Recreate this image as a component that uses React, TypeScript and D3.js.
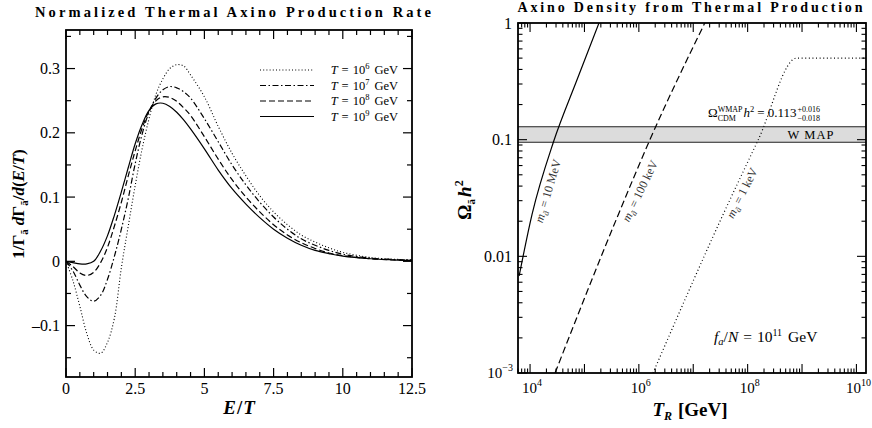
import React, { useEffect, useRef } from 'react';
import * as d3 from 'd3';

const W = 872;
const H = 428;
const FONT = '"Liberation Serif", "DejaVu Serif", serif';

// ---- left panel: normalized production rate vs E/T ----
const eOverT = [0, 0.25, 0.5, 0.75, 1, 1.25, 1.5, 1.75, 2, 2.25, 2.5, 2.75, 3, 3.25, 3.5, 3.75, 4, 4.25, 4.5, 5, 5.5, 6, 6.5, 7, 7.5, 8, 8.5, 9, 9.5, 10, 11, 12, 12.5];
const rateT6 = [0, -0.03, -0.07, -0.112, -0.138, -0.143, -0.126, -0.088, -0.01, 0.055, 0.118, 0.175, 0.222, 0.26, 0.284, 0.3, 0.306, 0.304, 0.29, 0.256, 0.21, 0.168, 0.133, 0.102, 0.077, 0.057, 0.041, 0.03, 0.021, 0.014, 0.006, 0.003, 0.002];
const rateT7 = [0, -0.015, -0.037, -0.055, -0.062, -0.053, -0.028, 0.008, 0.05, 0.098, 0.152, 0.198, 0.232, 0.254, 0.267, 0.272, 0.27, 0.264, 0.254, 0.222, 0.186, 0.15, 0.119, 0.092, 0.069, 0.05, 0.035, 0.025, 0.017, 0.011, 0.005, 0.0025, 0.002];
const rateT8 = [0, -0.008, -0.018, -0.022, -0.017, -0.002, 0.022, 0.055, 0.092, 0.133, 0.172, 0.207, 0.234, 0.25, 0.256, 0.255, 0.249, 0.239, 0.227, 0.194, 0.159, 0.127, 0.1, 0.077, 0.057, 0.041, 0.029, 0.02, 0.013, 0.009, 0.004, 0.002, 0.0015];
const rateT9 = [0, -0.002, -0.004, -0.004, 0, 0.016, 0.04, 0.072, 0.108, 0.146, 0.183, 0.213, 0.235, 0.245, 0.246, 0.241, 0.232, 0.22, 0.206, 0.175, 0.142, 0.113, 0.089, 0.068, 0.05, 0.036, 0.025, 0.017, 0.012, 0.008, 0.004, 0.002, 0.0015];
const tempExponents = ['6', '7', '8', '9'];
const rateSeries = [rateT6, rateT7, rateT8, rateT9];

const leftXTicks = [0, 2.5, 5, 7.5, 10, 12.5];
const leftXLabels = ['0', '2.5', '5', '7.5', '10', '12.5'];
const leftYTicks = [-0.1, 0, 0.1, 0.2, 0.3];
const leftYLabels = ['\u20130.1', '0', '0.1', '0.2', '0.3'];

// ---- right panel: axino relic density vs reheating temperature ----
const reheatMeV10 = [6.3e3, 1.09e4, 2.7e4, 7.3e4, 1.85e5];
const omegaMeV10 = [6.8e-3, 0.023, 0.096, 0.326, 1];
const reheatKeV100 = [2.88e4, 4.24e5, 1.6e6, 1.63e7];
const omegaKeV100 = [1e-3, 0.0231, 0.1, 1];
const reheatKeV1 = [1.82e6, 3.58e7, 1.57e8, 7.93e8, 1.5e10];
const omegaKeV1 = [1e-3, 0.0231, 0.1, 0.5, 0.5];
const massLabels = ['10 MeV', '100 keV', '1 keV'];

const wmapLow = 0.095;
const wmapHigh = 0.129;

const rightXDecades = [4, 5, 6, 7, 8, 9, 10];
const rightXLabelled = [4, 6, 8, 10];
const rightYDecades = [-3, -2, -1, 0];
const rightYLabels = ['10', '0.01', '0.1', '1'];

type Seg = { t?: string; size?: number; it?: boolean; bold?: boolean; dy?: number; gap?: number; stack?: [string, string]; ls?: number };

function rich(parent: any, x: number, y: number, segs: Seg[], base: number, anchor = 'start', rotate = 0, weight = 'normal') {
  const g = parent.append('g').attr('transform', `translate(${x},${y}) rotate(${rotate})`);
  const inner = g.append('g').attr('font-weight', weight);
  let cx = 0;
  segs.forEach(s => {
    if (s.gap) { cx += s.gap; return; }
    if (s.stack) {
      const sz = s.size ?? base * 0.68;
      const a = inner.append('text').attr('x', cx).attr('y', -base * 0.42).attr('font-size', sz).text(s.stack[0]);
      const b = inner.append('text').attr('x', cx).attr('y', base * 0.28).attr('font-size', sz).text(s.stack[1]);
      cx += Math.max(a.node().getComputedTextLength(), b.node().getComputedTextLength());
      return;
    }
    const t = inner.append('text')
      .attr('x', cx)
      .attr('y', s.dy ?? 0)
      .attr('font-size', s.size ?? base)
      .attr('font-style', s.it ? 'italic' : 'normal')
      .attr('letter-spacing', s.ls ?? 0)
      .text(s.t!);
    if (s.bold) t.attr('font-weight', 'bold');
    cx += t.node().getComputedTextLength() + (s.ls ?? 0) * (s.t!.length - 1);
  });
  const shift = anchor === 'end' ? -cx : anchor === 'middle' ? -cx / 2 : 0;
  inner.attr('transform', `translate(${shift},0)`);
  return g;
}

export default function App() {
  const svgRef = useRef<SVGSVGElement>(null);

  useEffect(() => {
    if (!svgRef.current) return;
    const svg = d3.select(svgRef.current);
    svg.selectAll('*').remove();

    // ===== left panel =====
    const L = { x0: 66, x1: 412, y0: 30, y1: 377 };
    const x = d3.scaleLinear().domain([0, 12.5]).range([L.x0, L.x1]);
    const y = d3.scaleLinear().domain([-0.18, 0.36]).range([L.y1, L.y0]);

    const gl = svg.append('g');
    gl.append('clipPath').attr('id', 'clipL').append('rect')
      .attr('x', L.x0).attr('y', L.y0).attr('width', L.x1 - L.x0).attr('height', L.y1 - L.y0);

    const dashes = ['1,2.2', '6,2.5,1.5,2.5', '6,3', null];
    const line = d3.line<number>()
      .x((_, i) => x(eOverT[i]))
      .y(d => y(d))
      .curve(d3.curveCatmullRom.alpha(0.5));

    rateSeries.forEach((vals, i) => {
      const p = gl.append('path')
        .attr('clip-path', 'url(#clipL)')
        .attr('d', line(vals))
        .attr('fill', 'none')
        .attr('stroke', '#000')
        .attr('stroke-width', i === 0 ? 1.1 : 1.2);
      if (dashes[i]) p.attr('stroke-dasharray', dashes[i]);
    });

    // ticks
    const minorX = d3.range(0, 12.51, 0.5);
    minorX.forEach(v => {
      const major = leftXTicks.some(t => Math.abs(t - v) < 1e-6);
      const len = major ? 9 : 5;
      gl.append('line').attr('x1', x(v)).attr('x2', x(v)).attr('y1', L.y1).attr('y2', L.y1 - len).attr('stroke', '#000').attr('stroke-width', 1.2);
      gl.append('line').attr('x1', x(v)).attr('x2', x(v)).attr('y1', L.y0).attr('y2', L.y0 + len).attr('stroke', '#000').attr('stroke-width', 1.2);
    });
    const minorY = d3.range(-0.15, 0.36, 0.05);
    minorY.forEach(v => {
      const major = leftYTicks.some(t => Math.abs(t - v) < 1e-6);
      const len = major ? 9 : 5;
      gl.append('line').attr('x1', L.x0).attr('x2', L.x0 + len).attr('y1', y(v)).attr('y2', y(v)).attr('stroke', '#000').attr('stroke-width', 1.2);
      gl.append('line').attr('x1', L.x1).attr('x2', L.x1 - len).attr('y1', y(v)).attr('y2', y(v)).attr('stroke', '#000').attr('stroke-width', 1.2);
    });
    gl.append('rect').attr('x', L.x0).attr('y', L.y0).attr('width', L.x1 - L.x0).attr('height', L.y1 - L.y0)
      .attr('fill', 'none').attr('stroke', '#000').attr('stroke-width', 1.8);

    leftXTicks.forEach((v, i) => {
      gl.append('text').attr('x', x(v)).attr('y', 394).attr('text-anchor', 'middle').attr('font-size', 16).text(leftXLabels[i]);
    });
    leftYTicks.forEach((v, i) => {
      gl.append('text').attr('x', 60).attr('y', y(v) + 5.5).attr('text-anchor', 'end').attr('font-size', 16).text(leftYLabels[i]);
    });

    // legend
    const legY = [70, 85.5, 101, 116.5];
    tempExponents.forEach((ex, i) => {
      const p = gl.append('line').attr('x1', 260).attr('x2', 314).attr('y1', legY[i]).attr('y2', legY[i])
        .attr('stroke', '#000').attr('stroke-width', i === 0 ? 1.1 : 1.2);
      if (dashes[i]) p.attr('stroke-dasharray', dashes[i]);
      rich(gl, 398, legY[i] + 4, [
        { t: 'T', it: true }, { gap: 4 }, { t: '=' }, { gap: 4 }, { t: '10' }, { t: ex, size: 8.5, dy: -5 }, { gap: 5 }, { t: 'GeV' },
      ], 12.5, 'end');
    });

    // titles and axis labels
    svg.append('text').attr('x', 233).attr('y', 17).attr('text-anchor', 'middle').attr('font-size', 14.5)
      .attr('font-weight', 'bold').attr('textLength', 396).attr('lengthAdjust', 'spacing')
      .text('Normalized Thermal Axino Production Rate');
    rich(svg, 239, 414, [{ t: 'E', it: true }, { gap: 1 }, { t: '/' }, { gap: 1 }, { t: 'T', it: true }], 19, 'middle', 0, 'bold');
    rich(svg, 24, 204, [
      { t: '1/\u0393' }, { t: 'a\u0303', size: 11, dy: 4 }, { gap: 4 }, { t: 'd', it: true }, { t: '\u0393' }, { t: 'a\u0303', size: 11, dy: 4 },
      { t: '/' }, { t: 'd', it: true }, { t: '(' }, { t: 'E', it: true }, { t: '/' }, { t: 'T', it: true }, { t: ')' },
    ], 17, 'middle', -90, 'bold');

    // ===== right panel =====
    const R = { x0: 518, x1: 866, y0: 23, y1: 373 };
    const xr = d3.scaleLog().domain([6e3, 1.5e10]).range([R.x0, R.x1]);
    const yr = d3.scaleLog().domain([1e-3, 1]).range([R.y1, R.y0]);
    const gr = svg.append('g');
    gr.append('clipPath').attr('id', 'clipR').append('rect')
      .attr('x', R.x0).attr('y', R.y0).attr('width', R.x1 - R.x0).attr('height', R.y1 - R.y0);

    // WMAP band
    gr.append('rect').attr('x', R.x0).attr('width', R.x1 - R.x0)
      .attr('y', yr(wmapHigh)).attr('height', yr(wmapLow) - yr(wmapHigh))
      .attr('fill', '#dcdcdc').attr('stroke', 'none');
    [wmapLow, wmapHigh].forEach(v => {
      gr.append('line').attr('x1', R.x0).attr('x2', R.x1).attr('y1', yr(v)).attr('y2', yr(v)).attr('stroke', '#222').attr('stroke-width', 1);
    });

    const rl = d3.line<[number, number]>().x(d => xr(d[0])).y(d => yr(d[1])).curve(d3.curveMonotoneX);
    const curves: [number[], number[], string | null][] = [
      [reheatMeV10, omegaMeV10, null],
      [reheatKeV100, omegaKeV100, '7,3.5'],
      [reheatKeV1, omegaKeV1, '1,2.6'],
    ];
    curves.forEach(([ts, os, dash]) => {
      const p = gr.append('path').attr('clip-path', 'url(#clipR)')
        .attr('d', rl(ts.map((t, i) => [t, os[i]] as [number, number])))
        .attr('fill', 'none').attr('stroke', '#000').attr('stroke-width', 1.2);
      if (dash) p.attr('stroke-dasharray', dash);
    });

    // log ticks
    const xMinor: number[] = [];
    for (let e = 3; e <= 10; e++) for (let m = 1; m <= 9; m++) {
      const v = m * Math.pow(10, e);
      if (v >= 6e3 && v <= 1.5e10) xMinor.push(v);
    }
    xMinor.forEach(v => {
      const major = rightXDecades.some(d => Math.abs(Math.log10(v) - d) < 1e-6);
      const len = major ? 9 : 4.5;
      gr.append('line').attr('x1', xr(v)).attr('x2', xr(v)).attr('y1', R.y1).attr('y2', R.y1 - len).attr('stroke', '#000').attr('stroke-width', 1.1);
      gr.append('line').attr('x1', xr(v)).attr('x2', xr(v)).attr('y1', R.y0).attr('y2', R.y0 + len).attr('stroke', '#000').attr('stroke-width', 1.1);
    });
    const yMinor: number[] = [];
    for (let e = -3; e <= 0; e++) for (let m = 1; m <= 9; m++) {
      const v = m * Math.pow(10, e);
      if (v <= 1.0001) yMinor.push(v);
    }
    yMinor.forEach(v => {
      const major = rightYDecades.some(d => Math.abs(Math.log10(v) - d) < 1e-6);
      const len = major ? 9 : 4.5;
      gr.append('line').attr('x1', R.x0).attr('x2', R.x0 + len).attr('y1', yr(v)).attr('y2', yr(v)).attr('stroke', '#000').attr('stroke-width', 1.1);
      gr.append('line').attr('x1', R.x1).attr('x2', R.x1 - len).attr('y1', yr(v)).attr('y2', yr(v)).attr('stroke', '#000').attr('stroke-width', 1.1);
    });
    gr.append('rect').attr('x', R.x0).attr('y', R.y0).attr('width', R.x1 - R.x0).attr('height', R.y1 - R.y0)
      .attr('fill', 'none').attr('stroke', '#000').attr('stroke-width', 1.8);

    rightXLabelled.forEach(d => {
      rich(gr, xr(Math.pow(10, d)) + 2, 393, [{ t: '10' }, { t: String(d), size: 10, dy: -7 }], 15, 'middle');
    });
    rightYDecades.forEach((d, i) => {
      if (d === -3) {
        rich(gr, 513, yr(Math.pow(10, d)) + 5, [{ t: '10' }, { t: '\u22123', size: 10, dy: -7 }], 15, 'end');
      } else {
        gr.append('text').attr('x', 512).attr('y', yr(Math.pow(10, d)) + 5.5).attr('text-anchor', 'end').attr('font-size', 16).text(rightYLabels[i]);
      }
    });

    // annotations
    rich(gr, 708, 117, [
      { t: '\u03a9' }, { stack: ['WMAP', 'CDM'], size: 8 }, { gap: 1 }, { t: 'h', it: true }, { t: '2', size: 8.5, dy: -5 },
      { gap: 3 }, { t: '=' }, { gap: 3 }, { t: '0.113' }, { gap: 1 }, { stack: ['+0.016', '\u22120.018'], size: 8 },
    ], 13, 'start');
    gr.append('text').attr('x', 811).attr('y', 138.5).attr('text-anchor', 'middle').attr('font-size', 12.5)
      .attr('letter-spacing', 1).text('W MAP');
    rich(gr, 714, 342, [
      { t: 'f', it: true }, { t: 'a', it: true, size: 10.5, dy: 3 }, { t: '/' }, { t: 'N', it: true }, { gap: 5 }, { t: '=' }, { gap: 5 },
      { t: '10' }, { t: '11', size: 10, dy: -6 }, { gap: 6 }, { t: 'GeV' },
    ], 15.5, 'start');

    const labelPos: [number, number, number][] = [[548, 191, -73.5], [640, 191, -64], [742, 193, -63]];
    massLabels.forEach((m, i) => {
      const [lx, ly, rot] = labelPos[i];
      const g = gr.append('g').attr('transform', `translate(${lx},${ly}) rotate(${rot})`);
      rich(g, 0, 4, [
        { t: 'm', it: true }, { t: 'a\u0303', it: true, size: 8.5, dy: 3 }, { gap: 3 }, { t: '=' }, { gap: 3 }, { t: m },
      ], 12, 'middle').attr('fill', '#333');
    });

    svg.append('text').attr('x', 690).attr('y', 12).attr('text-anchor', 'middle').attr('font-size', 14)
      .attr('font-weight', 'bold').attr('textLength', 345).attr('lengthAdjust', 'spacing')
      .text('Axino Density from Thermal Production');
    rich(svg, 690, 416, [{ t: 'T', it: true }, { t: 'R', it: true, size: 12, dy: 4 }, { gap: 6 }, { t: '[GeV]' }], 19, 'middle', 0, 'bold');
    rich(svg, 471, 200, [{ t: '\u03a9' }, { t: 'a\u0303', size: 11, dy: 4 }, { gap: 2 }, { t: 'h', it: true }, { t: '2', size: 12, dy: -8 }], 19, 'middle', -90, 'bold');
  }, []);

  return (
    <svg
      ref={svgRef}
      width={W}
      height={H}
      viewBox={`0 0 ${W} ${H}`}
      style={{ position: 'absolute', left: 0, top: 0, background: '#fff', fontFamily: FONT }}
      fill="#000"
    />
  );
}
